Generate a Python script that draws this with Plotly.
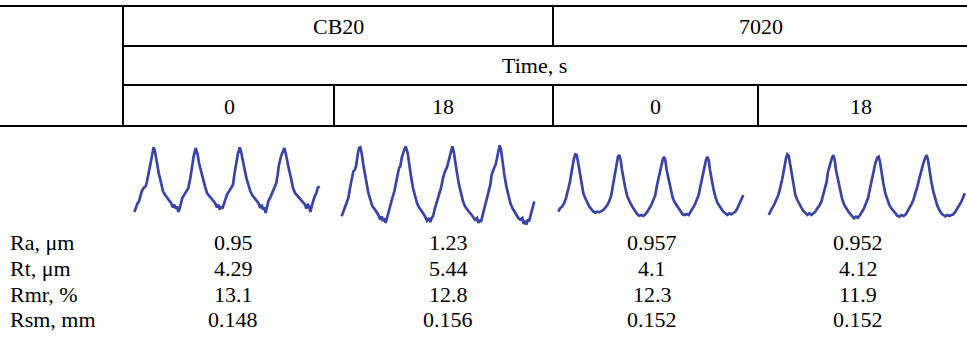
import plotly.graph_objects as go

W_PX, H_PX = 967, 344

# ---------------- data ----------------
materials = ["CB20", "7020"]
time_label = "Time, s"
times = ["0", "18", "0", "18"]
params = ["Ra, μm", "Rt, μm", "Rmr, %", "Rsm, mm"]

cb20_t0 = [0.95, 4.29, 13.1, 0.148]
cb20_t18 = [1.23, 5.44, 12.8, 0.156]
s7020_t0 = [0.957, 4.1, 12.3, 0.152]
s7020_t18 = [0.952, 4.12, 11.9, 0.152]

# surface profiles: position along trace (arb. units) and depth below top (arb. units)
p1_x = [28,32,38,42,46,50,56,62,66,70,74,78,82,86,90,94,98,102,106,110,114,120,126,132,138,144,148,152,156,160,164,168,172,178,184,190,196,202,206,212,218,222,228,234,240,246,252,258,264,270,276,280,284,288,292,296,300,306,312,318,324,328,332,338,344,348,352,358,364,370,376,382,388,394,400,406,410,414,418,422,426,430,436,442,448,454,458,462,468,474,478,482,486,492,498,504,510,516,522,528,534,540,544,548,552,556,560,564,568,574,578,584]
p1_d = [222,210,195,190,172,160,150,145,130,110,85,60,42,28,40,65,90,110,125,148,160,170,178,185,195,208,200,212,205,222,212,195,180,170,160,150,120,80,55,30,50,75,100,125,145,165,172,180,186,195,208,200,215,205,212,200,185,170,160,150,140,110,80,50,28,40,60,95,120,140,160,172,180,188,195,210,200,215,208,225,210,190,178,165,150,135,110,80,55,42,30,45,70,95,120,150,165,172,180,185,192,200,212,198,205,222,205,190,178,165,150,145]

p2_x = [20,28,35,40,45,50,55,60,64,68,72,76,80,85,90,95,100,106,112,118,124,130,136,140,144,148,152,156,160,166,172,178,184,188,192,196,200,206,212,218,222,228,234,240,246,252,258,264,270,276,282,286,290,294,300,306,312,318,324,330,336,340,346,352,356,360,366,372,378,384,390,396,402,408,414,420,426,430,434,438,442,448,454,460,466,470,474,478,482,486,490,494,498,502,508,514,520,526,532,538,544,550,556,562,566,570,574,578,582,588,594,598]
p2_d = [235,215,195,180,150,120,100,95,80,50,30,28,45,80,110,140,165,185,205,212,220,230,245,235,250,240,255,240,218,200,180,160,130,100,90,85,60,40,25,45,80,115,150,175,195,208,215,225,235,248,240,252,240,235,210,190,170,150,120,100,88,70,45,25,40,70,105,140,170,190,205,215,222,228,238,245,240,255,245,252,235,210,185,165,140,110,95,88,80,60,40,22,35,70,110,145,175,195,210,220,230,240,245,240,258,248,260,245,250,225,200,190]

p3_x = [25,30,36,42,48,52,56,60,64,68,72,76,80,84,88,92,96,100,106,112,118,124,130,136,142,148,154,160,166,172,178,184,188,192,196,200,204,208,212,216,220,226,232,238,244,250,256,262,268,274,280,286,292,298,304,310,316,320,326,332,338,342,346,350,356,362,368,374,380,386,392,398,404,410,416,422,428,434,440,446,450,454,458,464,468,472,476,480,484,490,496,502,508,514,520,526,532,538,544,550,556,562,568,574,580]
p3_d = [200,190,185,175,160,145,130,110,85,60,40,28,30,50,75,100,125,145,160,175,185,192,200,203,200,202,198,195,188,180,168,150,125,100,75,50,35,30,45,75,100,130,155,170,180,190,200,208,212,210,213,208,200,190,180,165,150,125,95,70,45,35,45,75,105,135,158,172,182,192,202,208,210,207,210,200,190,180,165,150,130,110,85,60,45,35,45,75,100,130,155,172,182,192,200,205,210,205,208,204,200,190,178,165,150]

p4_x = [20,24,30,36,42,48,52,56,60,64,68,72,76,80,84,88,92,96,100,106,112,118,124,130,136,142,148,154,160,166,172,178,184,190,194,198,204,210,214,218,222,228,234,240,246,252,258,264,270,276,282,288,294,300,306,312,318,322,328,334,340,346,350,354,358,364,370,376,382,388,394,400,406,412,418,424,430,436,442,448,454,460,466,472,478,484,490,494,498,502,508,514,520,526,532,538,544,550,556,562,568,574,580,586,592,598,604,608]
p4_d = [210,200,190,180,168,152,140,125,105,85,60,40,28,32,55,80,105,130,150,165,178,188,198,205,210,205,210,205,200,190,182,170,150,130,110,80,55,38,30,45,75,105,135,160,178,190,198,206,215,220,215,218,210,200,190,175,160,140,110,80,55,38,35,50,80,115,145,165,180,190,198,205,212,215,210,213,210,200,190,178,165,148,125,100,75,55,38,30,45,75,110,140,165,182,195,205,210,214,210,213,210,208,200,190,180,170,155,145]

profiles = [(p1_x, p1_d), (p2_x, p2_d), (p3_x, p3_d), (p4_x, p4_d)]

# ---------------- layout helpers ----------------
# panel boxes in pixels: left, top, width, height
panel_boxes = [(125, 138, 205, 85), (335, 138, 205, 92), (550, 145, 200, 80), (762, 145, 205, 80)]

def px(x):
    return x / W_PX

def py(y):
    return 1 - y / H_PX

LINE_COLOR = "#3a44a6"
FONT = "Liberation Serif"
FS = 22

fig = go.Figure()
layout_axes = {}
for i, ((xs, ds), (l, t, w, h)) in enumerate(zip(profiles, panel_boxes), start=1):
    xa = "x" if i == 1 else f"x{i}"
    ya = "y" if i == 1 else f"y{i}"
    fig.add_trace(go.Scatter(x=xs, y=ds, mode="lines", xaxis=xa, yaxis=ya,
                             line=dict(color=LINE_COLOR, width=2.7),
                             hoverinfo="skip", showlegend=False))
    key = "" if i == 1 else str(i)
    layout_axes[f"xaxis{key}"] = dict(domain=[px(l), px(l + w)], range=[0, 3 * w], visible=False,
                                      anchor=ya, fixedrange=True)
    layout_axes[f"yaxis{key}"] = dict(domain=[py(t + h), py(t)], range=[3 * h, 0], visible=False,
                                      anchor=xa, fixedrange=True)

# table rules (pixel coords)
hlines = [(6, 0, 967), (46, 123, 967), (85, 123, 967), (126, 0, 967)]
vlines = [(123, 6, 126), (553, 6, 46), (553, 85, 126), (334, 85, 126), (758, 85, 126)]
shapes = []
for y, x0, x1 in hlines:
    shapes.append(dict(type="line", xref="paper", yref="paper", x0=px(x0), x1=px(x1), y0=py(y), y1=py(y),
                       line=dict(color="black", width=2)))
for x, y0, y1 in vlines:
    shapes.append(dict(type="line", xref="paper", yref="paper", x0=px(x), x1=px(x), y0=py(y0), y1=py(y1),
                       line=dict(color="black", width=2)))

annotations = []

def txt(s, x, y, anchor="center"):
    annotations.append(dict(text=s, x=px(x), y=py(y), xref="paper", yref="paper", showarrow=False,
                            xanchor=anchor, yanchor="middle", font=dict(family=FONT, size=FS, color="black")))

txt(materials[0], 338, 26)
txt(materials[1], 761, 26)
txt(time_label, 534, 65)
for s, x in zip(times, [229, 443, 655, 861]):
    txt(s, x, 106)

row_y = [242, 268, 294, 319]
col_x = [233, 448, 652, 858]
for r, label in enumerate(params):
    txt(label, 8, row_y[r], anchor="left")
for c, col in enumerate([cb20_t0, cb20_t18, s7020_t0, s7020_t18]):
    for r, v in enumerate(col):
        txt(str(v), col_x[c], row_y[r])

fig.update_layout(width=W_PX, height=H_PX, margin=dict(l=0, r=0, t=0, b=0),
                  paper_bgcolor="white", plot_bgcolor="white",
                  font=dict(family=FONT),
                  shapes=shapes, annotations=annotations, **layout_axes)

fig.write_html("out.html")
